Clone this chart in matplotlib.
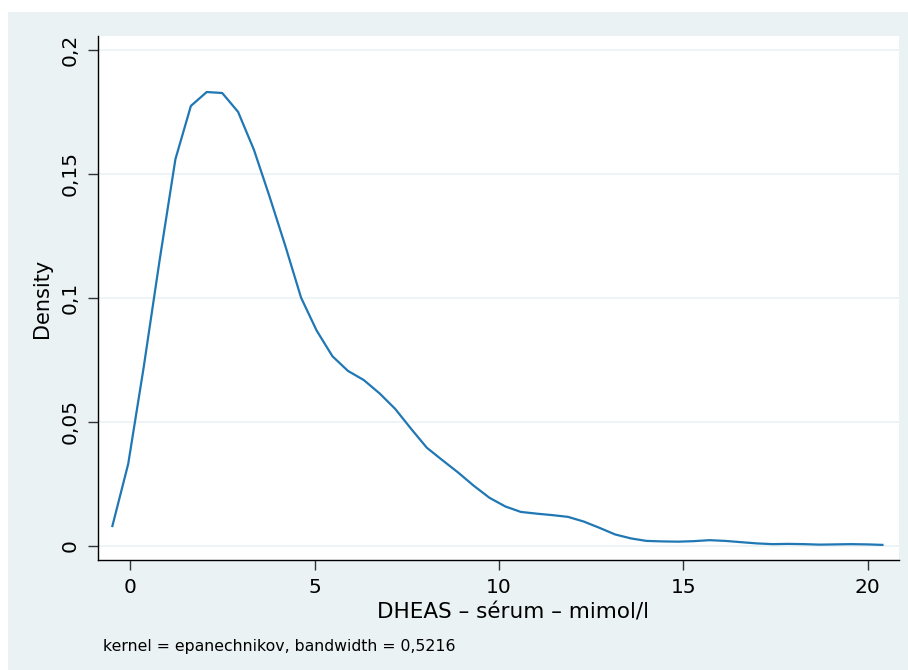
import matplotlib
matplotlib.use("Agg")
import matplotlib.pyplot as plt
from matplotlib.patches import Rectangle

# Kernel density estimate points
dheas = [-0.49, -0.06, 0.36, 0.79, 1.22, 1.64, 2.07, 2.49, 2.92, 3.35,
         3.77, 4.20, 4.63, 5.05, 5.48, 5.90, 6.33, 6.76, 7.18, 7.61,
         8.04, 8.46, 8.89, 9.31, 9.74, 10.17, 10.59, 11.02, 11.45, 11.87,
         12.30, 12.72, 13.15, 13.58, 14.00, 14.43, 14.86, 15.28, 15.71, 16.14,
         16.56, 16.99, 17.42, 17.84, 18.27, 18.70, 19.12, 19.55, 19.98, 20.40]
density = [0.0079, 0.0330, 0.0720, 0.1150, 0.1559, 0.1774, 0.1830, 0.1826, 0.1750, 0.1597,
           0.1410, 0.1210, 0.1000, 0.0868, 0.0764, 0.0705, 0.0668, 0.0614, 0.0552, 0.0472,
           0.0395, 0.0345, 0.0295, 0.0242, 0.0193, 0.0158, 0.0136, 0.0129, 0.0123, 0.0116,
           0.0097, 0.0072, 0.0045, 0.0029, 0.0019, 0.0017, 0.0016, 0.0018, 0.0022, 0.0019,
           0.0014, 0.0009, 0.0006, 0.0007, 0.0006, 0.0004, 0.0005, 0.0006, 0.0005, 0.0003]

xticks = [0, 5, 10, 15, 20]
xticklabels = ["0", "5", "10", "15", "20"]
yticks = [0, 0.05, 0.1, 0.15, 0.2]
yticklabels = ["0", "0,05", "0,1", "0,15", "0,2"]
xlabel = "DHEAS – sérum – mimol/l"
ylabel = "Density"
note = "kernel = epanechnikov, bandwidth = 0,5216"

W, H = 908, 670
bg = "#eaf2f3"
fig = plt.figure(figsize=(W / 100, H / 100), dpi=100, facecolor="white")
fig.patches.append(Rectangle((8 / W, 0), 1 - 8 / W, 1 - 12 / H, transform=fig.transFigure,
                             facecolor=bg, edgecolor="none", zorder=-10))

left, right, top, bottom = 98, 899, 36, 560
ax = fig.add_axes([left / W, 1 - bottom / H, (right - left) / W, (bottom - top) / H])
ax.set_facecolor("white")
ax.plot(dheas, density, color="#1f77b4", lw=1.6, zorder=3)

ax.set_xlim(-0.88, 20.85)
ax.set_ylim(-0.0058, 0.2056)
ax.set_xticks(xticks)
ax.set_xticklabels(xticklabels)
ax.set_yticks(yticks)
ax.set_yticklabels(yticklabels, rotation=90, va="center")
ax.grid(axis="y", color="#eaf2f3", lw=1.2, zorder=0)
for s in ["top", "right"]:
    ax.spines[s].set_visible(False)
for s in ["left", "bottom"]:
    ax.spines[s].set_color("black")
    ax.spines[s].set_linewidth(1.0)
ax.tick_params(axis="both", length=7, width=1, color="#333333", labelsize=14.5, pad=6)

fig.text(42 / W, 1 - 298 / H, ylabel, rotation=90, ha="center", va="center", fontsize=15)
fig.text(513 / W, 1 - 612 / H, xlabel, ha="center", va="center", fontsize=15.5)
fig.text(103 / W, 1 - 647 / H, note, ha="left", va="center", fontsize=11.3)

fig.savefig("out.png", dpi=100, facecolor="white")
